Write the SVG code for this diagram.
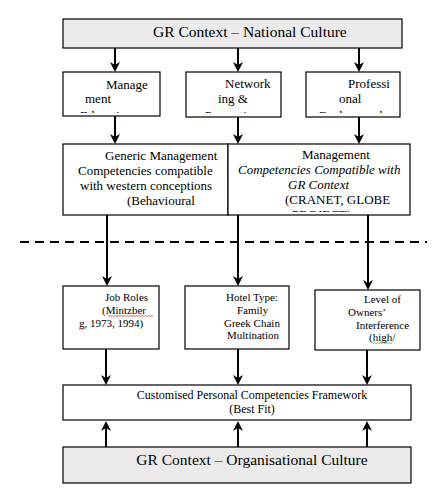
<svg xmlns="http://www.w3.org/2000/svg" width="445" height="492" viewBox="0 0 445 492">
<style>
.box{fill:#fff;stroke:#000;stroke-width:1.2}
.ctx{fill:#ebebeb;stroke:#000;stroke-width:1.2}
text{font-family:"Liberation Serif","Times New Roman",serif;fill:#000}
.t13{font-size:13px}
.t11{font-size:11px}
.t15{font-size:15.5px}
.t12{font-size:12px}
.it{font-style:italic}
.conn{stroke:#000;stroke-width:2;fill:none}
.arr{marker-end:url(#ah)}
</style>
<defs>
<marker id="ah" viewBox="0 0 10 10" refX="7" refY="5" markerWidth="10" markerHeight="10" markerUnits="userSpaceOnUse" orient="auto">
<path d="M0,0 L10,5 L0,10 L3,5 z" fill="#000"/>
</marker>
<clipPath id="c1"><rect x="63" y="72" width="97" height="41"/></clipPath>
<clipPath id="c2"><rect x="186" y="72" width="95" height="41"/></clipPath>
<clipPath id="c3"><rect x="306" y="72" width="94" height="41"/></clipPath>
<clipPath id="c5"><rect x="228" y="144" width="182" height="68"/></clipPath>
</defs>

<g id="connectors">
<line class="conn arr" x1="115" y1="48" x2="115" y2="69"/>
<line class="conn arr" x1="238" y1="48" x2="238" y2="69"/>
<line class="conn arr" x1="359" y1="48" x2="359" y2="69"/>
<line class="conn arr" x1="115" y1="116" x2="115" y2="141"/>
<line class="conn arr" x1="238" y1="117" x2="238" y2="141"/>
<line class="conn arr" x1="359" y1="117" x2="359" y2="141"/>
<line class="conn arr" x1="107" y1="215" x2="107" y2="283"/>
<line class="conn arr" x1="238" y1="215" x2="238" y2="283"/>
<line class="conn arr" x1="368" y1="215" x2="368" y2="287"/>
<line x1="20" y1="242" x2="427" y2="242" stroke="#000" stroke-width="2" stroke-dasharray="9,6"/>
<line class="conn arr" x1="106" y1="349" x2="106" y2="382"/>
<line class="conn arr" x1="238" y1="349" x2="238" y2="382"/>
<line class="conn arr" x1="367" y1="350" x2="367" y2="382"/>
<line class="conn arr" x1="106" y1="447" x2="106" y2="424"/>
<line class="conn arr" x1="238" y1="447" x2="238" y2="424"/>
<line class="conn arr" x1="367" y1="447" x2="367" y2="424"/>
</g>

<g id="national-culture">
<rect class="ctx" x="63" y="19" width="339" height="29"/>
<text class="t15" x="153" y="37">GR Context – National Culture</text>
</g>

<g id="management-education">
<rect class="box" x="63" y="72" width="97" height="44"/>
<g clip-path="url(#c1)">
<text class="t13" x="106" y="89">Manage</text>
<text class="t13" x="85" y="103">ment</text>
<text class="t13" x="80" y="119.5">Education</text>
</g>
</g>

<g id="networking-promotion">
<rect class="box" x="186" y="72" width="95" height="45"/>
<g clip-path="url(#c2)">
<text class="t13" x="225" y="88">Network</text>
<text class="t13" x="218" y="103">ing &amp;</text>
<text class="t13" x="205" y="119.5">Promotion</text>
</g>
</g>

<g id="professional-background">
<rect class="box" x="306" y="72" width="94" height="45"/>
<g clip-path="url(#c3)">
<text class="t13" x="348" y="88">Professi</text>
<text class="t13" x="339" y="103">onal</text>
<text class="t13" x="319" y="119.5">Background</text>
</g>
</g>

<g id="generic-competencies">
<rect class="box" x="63" y="144" width="165" height="71"/>
<text class="t13" x="105" y="160">Generic Management</text>
<text class="t13" x="78" y="175">Competencies compatible</text>
<text class="t13" x="80" y="190">with western conceptions</text>
<text class="t13" x="127" y="205">(Behavioural</text>
</g>

<g id="gr-competencies">
<rect class="box" x="228" y="144" width="182" height="71"/>
<g clip-path="url(#c5)">
<text class="t13" x="302" y="159">Management</text>
<text class="t13 it" x="238" y="174">Competencies Compatible with</text>
<text class="t13 it" x="288" y="189">GR Context</text>
<text class="t13" x="285" y="204">(CRANET, GLOBE</text>
<text class="t13" x="292" y="218.5">PROJECT)</text>
</g>
</g>

<g id="job-roles">
<rect class="box" x="63" y="286" width="96" height="63"/>
<text class="t11" x="105" y="301">Job Roles</text>
<text class="t11" x="102" y="314">(Mintzber</text>
<text class="t11" x="79" y="327">g, 1973, 1994)</text>
<path d="M108,316.5 l1.5,-1 l1.5,1 l1.5,-1 l1.5,1 l1.5,-1 l1.5,1 l1.5,-1 l1.5,1 l1.5,-1 l1.5,1 l1.5,-1 l1.5,1 l1.5,-1 l1.5,1 l1.5,-1 l1.5,1 l1.5,-1 l1.5,1 l1.5,-1 l1.5,1 l1.5,-1 l1.5,1 l1.5,-1 l1.5,1 l1.5,-1 l1.5,1 l1.5,-1 l1.5,1 l1.5,-1 l1.5,1" fill="none" stroke="#d22" stroke-width="0.7"/>
<path d="M79,329.5 l1.5,-1 l1.5,1 l1.5,-1 l1.5,1" fill="none" stroke="#d22" stroke-width="0.7"/>
</g>

<g id="hotel-type">
<rect class="box" x="185" y="286" width="104" height="63"/>
<text class="t11" x="226" y="301">Hotel Type:</text>
<text class="t11" x="237" y="314">Family</text>
<text class="t11" x="224" y="327">Greek Chain</text>
<text class="t11" x="227" y="339">Multination</text>
</g>

<g id="owners-interference">
<rect class="box" x="315" y="290" width="105" height="60"/>
<text class="t11" x="364" y="303">Level of</text>
<text class="t11" x="348" y="316">Owners’</text>
<text class="t11" x="356" y="329">Interference</text>
<text class="t11" x="369" y="341">(high/</text>
<path d="M373,343.5 l1.5,-1 l1.5,1 l1.5,-1 l1.5,1 l1.5,-1 l1.5,1 l1.5,-1 l1.5,1 l1.5,-1 l1.5,1 l1.5,-1 l1.5,1 l1.5,-1" fill="none" stroke="#2a2" stroke-width="0.7"/>
</g>

<g id="framework">
<rect class="box" x="63" y="385" width="348" height="35"/>
<text class="t12" x="252" y="399" text-anchor="middle">Customised Personal Competencies Framework</text>
<text class="t12" x="252" y="413" text-anchor="middle">(Best Fit)</text>
</g>

<g id="organisational-culture">
<rect class="ctx" x="63" y="447" width="348" height="36"/>
<text class="t15" x="252" y="465" text-anchor="middle">GR Context – Organisational Culture</text>
</g>
</svg>
